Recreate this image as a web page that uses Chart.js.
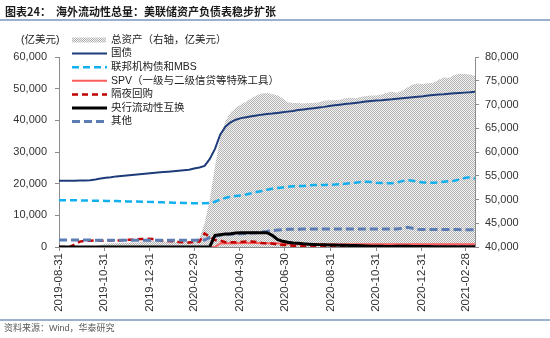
<!DOCTYPE html>
<html>
<head>
<meta charset="utf-8">
<script src="https://cdn.jsdelivr.net/npm/chart.js@4.4.1/dist/chart.umd.min.js"></script>
<style>
  html, body { margin: 0; padding: 0; background: #fff; }
  #wrap { position: relative; width: 550px; height: 338px; overflow: hidden; }
  #grafico { position: absolute; left: 0; top: 0; }
  #titulo { position: absolute; left: 5px; top: 3px; font: bold 11px "Noto Sans CJK SC"; color: #1a1a1a; white-space: pre; }
  #linha-topo { position: absolute; left: 0; top: 19px; width: 550px; height: 2px; background: #9bb0cc; }
  #linha-base { position: absolute; left: 0; top: 319px; width: 550px; height: 2px; background: #9bb0cc; }
  #fonte { position: absolute; left: 4px; top: 321px; font: 9px "Liberation Sans", "Noto Sans CJK SC"; color: #595959; white-space: pre; }
</style>
</head>
<body>
<div id="wrap">
  <canvas id="grafico" width="550" height="338"></canvas>
  <div id="titulo">图表24：  海外流动性总量：美联储资产负债表稳步扩张</div>
  <div id="linha-topo"></div>
  <div id="linha-base"></div>
  <div id="fonte">资料来源：Wind，华泰研究</div>
</div>
<script>
// semanas (sábado) de 2019-08-31 até 2021-03-13
const inicio = '2019-08-31';
const semanas = 81;

// rótulos do eixo x
const rotulosX = ['2019-08-31', '2019-10-31', '2019-12-31', '2020-02-29', '2020-04-30',
  '2020-06-30', '2020-08-31', '2020-10-31', '2020-12-31', '2021-02-28'];

// 总资产（右轴，亿美元）
const totalAtivos = [
  37600, 37600, 37600, 38500, 38600, 39450, 39500, 39800, 40500, 40700,
  40800, 40800, 40900, 40900, 41000, 40900, 41200, 41400, 41300, 41200,
  41100, 41200, 41100, 41000, 41100, 41000, 41100, 41800, 45000, 50000,
  57000, 63000, 66500, 68300, 69300, 70000, 70600, 71300, 71900, 72300,
  72400, 72200, 71900, 71300, 70500, 70300, 70300, 70200, 70300, 70300,
  70500, 70800, 70900, 70900, 71000, 71300, 71400, 71300, 71600, 71800,
  71900, 71900, 72100, 72400, 72700, 72500, 72900, 73600, 74200, 74400,
  74300, 74500, 74600, 75200, 75700, 75600, 76200, 76500, 76400, 76300, 76000];

// 国债
const tesouro = [
  20900, 20900, 20950, 20950, 21000, 21000, 21100, 21300, 21600, 21850,
  22050, 22300, 22450, 22600, 22750, 22900, 23050, 23200, 23350, 23500,
  23650, 23800, 23950, 24100, 24250, 24400, 24800, 25100, 25600, 27800,
  31000, 35500, 38000, 39400, 40200, 40700, 41000, 41300, 41550, 41800,
  42000, 42150, 42350, 42550, 42750, 42950, 43250, 43450, 43650, 43850,
  44050, 44250, 44550, 44750, 44950, 45150, 45300, 45500, 45700, 45950,
  46100, 46250, 46350, 46500, 46650, 46850, 47000, 47150, 47300, 47450,
  47600, 47850, 48000, 48150, 48250, 48400, 48550, 48650, 48750, 48850, 49000];

// 联邦机构债和MBS
const mbs = [
  14800, 14800, 14750, 14750, 14700, 14700, 14650, 14600, 14600, 14550,
  14500, 14500, 14450, 14400, 14400, 14350, 14300, 14250, 14200, 14150,
  14100, 14050, 14000, 13950, 13900, 13850, 13850, 13800, 13800, 13900,
  14300, 15000, 15500, 15900, 16100, 16300, 16600, 17000, 17400, 17700,
  18100, 18400, 18600, 18800, 19000, 19150, 19250, 19300, 19450, 19550,
  19600, 19600, 19650, 19700, 19800, 20000, 20100, 20300, 20500, 20600,
  20500, 20300, 20200, 20100, 20150, 20400, 20800, 21100, 20900, 20600,
  20400, 20300, 20300, 20400, 20600, 20800, 20900, 21300, 21800, 22000, 21600];

// SPV（一级与二级信贷等特殊工具）
const spv = [
  0, 0, 0, 0, 0, 0, 0, 0, 0, 0,
  0, 0, 0, 0, 0, 0, 0, 0, 0, 0,
  0, 0, 0, 0, 0, 0, 0, 0, 0, 0,
  0, 1100, 1200, 1200, 1200, 1250, 1250, 1250, 1250, 1200,
  1200, 1200, 1150, 1050, 950, 900, 850, 850, 850, 850,
  850, 850, 850, 850, 850, 850, 850, 850, 850, 850,
  860, 860, 870, 870, 870, 870, 880, 880, 880, 880,
  880, 880, 880, 880, 880, 880, 880, 880, 880, 880, 880];

// 隔夜回购
const repo = [
  0, 0, 0, 800, 1700, 2000, 2000, 2100, 2000, 2000,
  2050, 2000, 2100, 2300, 2300, 2400, 2500, 2600, 2500, 2200,
  2000, 1900, 1800, 1600, 1500, 1400, 1600, 1700, 4300, 3200,
  2200, 2000, 1500, 1500, 1500, 1600, 1700, 1700, 1600, 1300,
  1200, 1100, 800, 650, 600, 400, 300, 200, 100, 0,
  0, 0, 0, 0, 0, 0, 0, 0, 0, 0,
  0, 0, 0, 0, 0, 0, 0, 0, 0, 0,
  0, 0, 0, 0, 0, 0, 0, 0, 0, 0, 0];

// 央行流动性互换
const swaps = [
  0, 0, 0, 0, 0, 0, 0, 0, 0, 0,
  0, 0, 0, 0, 0, 0, 0, 0, 0, 0,
  0, 0, 0, 0, 0, 0, 0, 0, 0, 100,
  3700, 3900, 4100, 4200, 4400, 4500, 4500, 4500, 4500, 4500,
  4500, 3700, 2400, 1800, 1500, 1300, 1150, 1000, 900, 820,
  750, 680, 630, 600, 580, 530, 480, 450, 420, 350,
  250, 200, 200, 150, 150, 200, 200, 200, 150, 150,
  150, 150, 100, 100, 100, 100, 100, 100, 100, 100, 100];

// 其他
const outros = [
  2200, 2200, 2200, 2250, 2250, 2200, 2200, 2150, 2150, 2100,
  2100, 2100, 2100, 2100, 2100, 2150, 2150, 2100, 2100, 2100,
  2100, 2100, 2100, 2100, 2100, 2150, 2150, 2200, 2200, 3000,
  3400, 3750, 3900, 4000, 4100, 4200, 4300, 4400, 4500, 4700,
  4900, 5150, 5350, 5500, 5600, 5600, 5600, 5650, 5650, 5650,
  5650, 5650, 5700, 5700, 5700, 5700, 5700, 5650, 5650, 5650,
  5650, 5650, 5700, 5700, 5700, 5700, 5900, 6200, 5900, 5600,
  5550, 5500, 5500, 5500, 5500, 5500, 5500, 5500, 5450, 5450, 5450];

// dias desde o início
function dia(str) {
  const [a, m, d] = str.split('-').map(Number);
  const [a0, m0, d0] = inicio.split('-').map(Number);
  return (Date.UTC(a, m - 1, d) - Date.UTC(a0, m0 - 1, d0)) / 86400000;
}
const dias = [];
for (let i = 0; i < semanas; i++) dias.push(i * 7);

function pontos(valores) {
  return valores.map((v, i) => ({ x: dias[i], y: v }));
}

// padrão pontilhado do Excel para a área
const pc = document.createElement('canvas');
pc.width = 2; pc.height = 2;
const pctx = pc.getContext('2d');
pctx.fillStyle = '#f3f3f3';
pctx.fillRect(0, 0, 2, 2);
pctx.fillStyle = '#b3b3b3';
pctx.fillRect(0, 0, 1, 1);
pctx.fillRect(1, 1, 1, 1);
const padrao = pctx.createPattern(pc, 'repeat');

const fonteCJK = '"Liberation Sans", "Noto Sans CJK SC"';

// legenda desenhada à mão (coluna no canto superior esquerdo)
const legenda = {
  id: 'legenda',
  afterDraw(chart) {
    const c = chart.ctx;
    c.save();
    c.font = '10.5px ' + fonteCJK;
    c.textBaseline = 'middle';
    c.textAlign = 'left';
    c.fillStyle = '#222';
    c.fillText('(亿美元)', 21, 40);
    chart.data.datasets.forEach((ds, i) => {
      const y = 40 + 13.6 * i;
      if (ds.fill) {
        c.fillStyle = ds.backgroundColor;
        c.fillRect(72, y - 2.5, 34, 5);
      } else {
        c.strokeStyle = ds.borderColor;
        c.lineWidth = ds.borderWidth;
        c.setLineDash(ds.borderDash || []);
        c.beginPath();
        c.moveTo(72, y);
        c.lineTo(107, y);
        c.stroke();
        c.setLineDash([]);
      }
      c.fillStyle = '#222';
      c.fillText(ds.label, 111, y);
    });
    c.restore();
  }
};

const corEixo = '#8c8c8c';
const fonteTick = { family: '"Liberation Sans"', size: 11 };

new Chart(document.getElementById('grafico').getContext('2d'), {
  type: 'line',
  data: {
    datasets: [
      { label: '总资产（右轴，亿美元）', data: pontos(totalAtivos), yAxisID: 'y1', fill: 'start',
        backgroundColor: padrao, borderWidth: 0, pointRadius: 0, order: 10 },
      { label: '国债', data: pontos(tesouro), yAxisID: 'y', borderColor: '#1f3c7a', borderWidth: 2,
        pointRadius: 0, fill: false, order: 5 },
      { label: '联邦机构债和MBS', data: pontos(mbs), yAxisID: 'y', borderColor: '#12b0ee', borderWidth: 2.5,
        borderDash: [7, 4], pointRadius: 0, fill: false, order: 4 },
      { label: 'SPV（一级与二级信贷等特殊工具）', data: pontos(spv), yAxisID: 'y', borderColor: '#ff5e5e',
        borderWidth: 2, pointRadius: 0, fill: false, order: 3 },
      { label: '隔夜回购', data: pontos(repo), yAxisID: 'y', borderColor: '#c00000', borderWidth: 2.5,
        borderDash: [6, 4], pointRadius: 0, fill: false, order: 2 },
      { label: '央行流动性互换', data: pontos(swaps), yAxisID: 'y', borderColor: '#000000', borderWidth: 3,
        pointRadius: 0, fill: false, order: 0 },
      { label: '其他', data: pontos(outros), yAxisID: 'y', borderColor: '#5b7db4', borderWidth: 3,
        borderDash: [8, 4], pointRadius: 0, fill: false, order: 1 }
    ]
  },
  options: {
    responsive: false,
    animation: false,
    layout: { padding: { top: 57, left: 0, right: 0, bottom: 0 } },
    plugins: { legend: { display: false }, tooltip: { enabled: false } },
    scales: {
      x: {
        type: 'linear', min: 0, max: 560,
        afterBuildTicks: s => { s.ticks = rotulosX.map(d => ({ value: dia(d) })); },
        afterFit: s => { s.height = 91; },
        ticks: { autoSkip: false, minRotation: 90, maxRotation: 90, padding: 2, color: '#333',
          font: { family: '"Liberation Sans"', size: 11.5 }, callback: (v, i) => rotulosX[i] },
        grid: { display: true, drawOnChartArea: false, tickLength: 4, color: corEixo },
        border: { color: corEixo }
      },
      y: {
        position: 'left', min: 0, max: 60000,
        afterFit: s => { s.width = 59; },
        ticks: { stepSize: 10000, padding: 8, color: '#333', font: fonteTick,
          callback: v => v.toLocaleString('en-US') },
        grid: { display: true, drawOnChartArea: false, tickLength: 4, color: corEixo },
        border: { color: corEixo }
      },
      y1: {
        position: 'right', min: 40000, max: 80000,
        afterFit: s => { s.width = 75; },
        ticks: { stepSize: 5000, padding: 6, color: '#333', font: fonteTick,
          callback: v => v.toLocaleString('en-US') },
        grid: { display: true, drawOnChartArea: false, tickLength: 4, color: corEixo },
        border: { color: corEixo }
      }
    }
  },
  plugins: [legenda]
});
</script>
</body>
</html>
